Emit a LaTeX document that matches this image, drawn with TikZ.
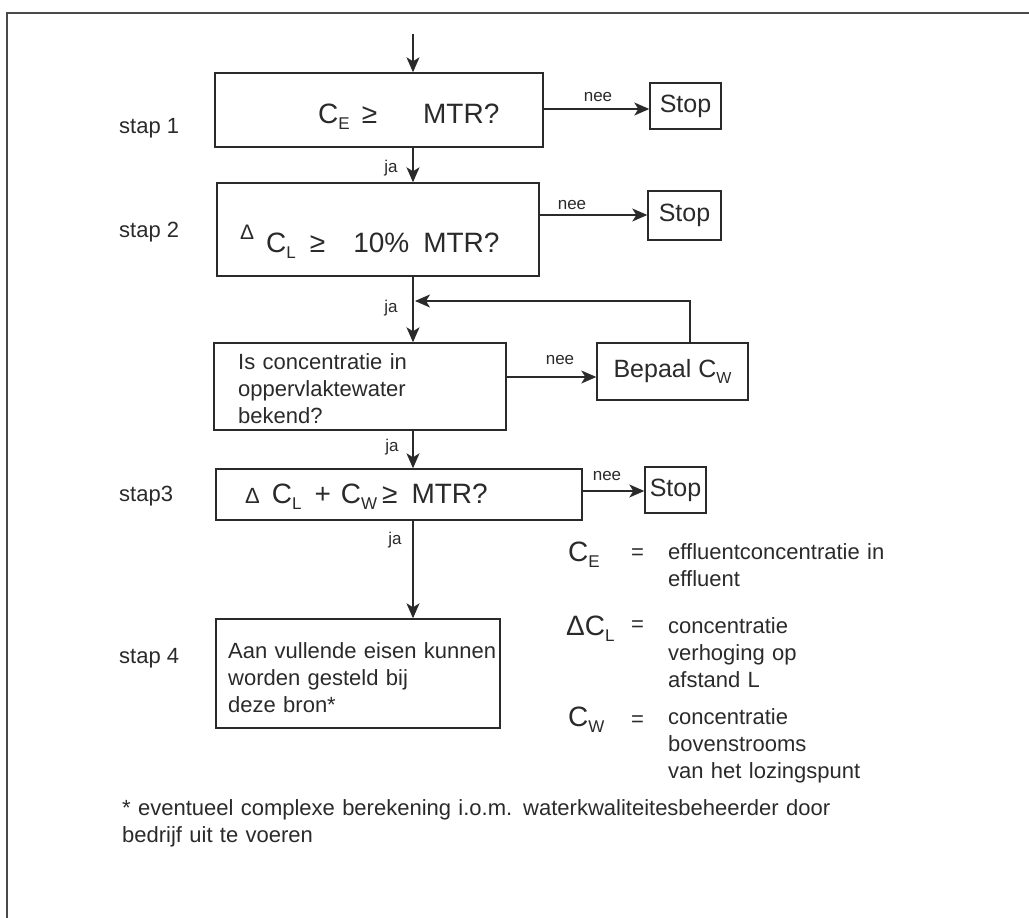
\documentclass[tikz,border=0pt]{standalone}
\usepackage{fontspec}
\setmainfont{Liberation Sans}
\usetikzlibrary{arrows.meta,calc}
\definecolor{ink}{HTML}{2A2A2A}
\newcommand{\dn}[2][17]{\raisebox{-6pt}{\fontsize{#1}{#1}\selectfont #2}}
\begin{document}
\begin{tikzpicture}[x=1pt,y=-1pt]
\tikzset{
  box/.style={draw=ink, line width=1.4pt, rectangle, inner sep=0pt, text=ink},
  lbl/.style={text=ink, inner sep=0pt, font=\fontsize{17}{17}\selectfont},
  stp/.style={text=ink, inner sep=0pt, anchor=base west, font=\fontsize{22}{22}\selectfont},
  big/.style={text=ink, inner sep=0pt, anchor=base west, font=\fontsize{28}{28}\selectfont},
  body/.style={text=ink, inner sep=0pt, anchor=base west, text width=300pt, align=left, font=\fontsize{22}{27}\selectfont},
  arr/.style={draw=ink, line width=1.4pt, -{Stealth[length=15pt,width=13pt,inset=4pt]}},
}
\useasboundingbox (0,0) rectangle (1029,918);
% frame
\draw[ink!85, line width=2pt] (1029,13) -- (7,13) -- (7,918);

% boxes
\node[box, minimum width=328pt, minimum height=74pt] (b1) at (379,110) {};
\node[box, minimum width=71pt, minimum height=46pt, font=\fontsize{25}{25}\selectfont] (s1) at (685.5,106) {Stop};
\node[box, minimum width=322pt, minimum height=93pt] (b2) at (378,229.5) {};
\node[box, minimum width=73pt, minimum height=49pt, font=\fontsize{25}{25}\selectfont] (s2) at (684.5,215.5) {Stop};
\node[box, minimum width=292pt, minimum height=87pt] (b3) at (360,386.5) {};
\node[box, minimum width=151pt, minimum height=57pt, font=\fontsize{25}{25}\selectfont] (bep) at (672.5,371.5) {Bepaal C\dn[16]{W}};
\node[box, minimum width=366pt, minimum height=51pt] (b4) at (399,494.5) {};
\node[box, minimum width=61pt, minimum height=46pt, font=\fontsize{25}{25}\selectfont] (s3) at (675.5,490) {Stop};
\node[box, minimum width=284pt, minimum height=109pt] (b5) at (358,673.5) {};

% box texts
\node[big] (t1) at (318,123) {C\dn{E}\hspace{12pt}≥\hspace{46pt}MTR?};
\node[big] (t2) at (240,252) {\raisebox{13pt}{\fontsize{21}{21}\selectfont Δ}\hspace{12pt}C\dn{L}\hspace{14pt}≥\hspace{28pt}10\%\hspace{14pt}MTR?};
\node[body] (t3) at (238,369) {Is concentratie in\\oppervlaktewater\\bekend?};
\node[big] (t4) at (245,503) {{\fontsize{22}{22}\selectfont Δ}\hspace{12pt}C\dn{L}\hspace{13pt}+\hspace{10pt}C\dn{W}\hspace{5pt}≥\hspace{14pt}MTR?};
\node[body] (t5) at (228,658) {Aan vullende eisen kunnen\\worden gesteld bij\\deze bron*};

% step labels
\node[stp] (st1) at (119,133) {stap 1};
\node[stp] (st2) at (119,237) {stap 2};
\node[stp] (st3) at (119,501) {stap3};
\node[stp] (st4) at (119,663) {stap 4};

% connectors
\coordinate (ax) at (413,0);
\coordinate (top) at (413,34);
\coordinate (r1) at (0,109);
\coordinate (r2) at (0,215);
\coordinate (r3) at (0,377);
\coordinate (r4) at (0,491);
\coordinate (fb) at (690,301);
\draw[arr] (top) -- (b1.north -| top);
\draw[arr] (b1.south -| ax) -- (b2.north -| ax);
\draw[arr] (b2.south -| ax) -- (b3.north -| ax);
\draw[arr] (b3.south -| ax) -- (b4.north -| ax);
\draw[arr] (b4.south -| ax) -- (b5.north -| ax);
\draw[arr] (b1.east |- r1) -- (s1.west |- r1);
\draw[arr] (b2.east |- r2) -- (s2.west |- r2);
\draw[arr] (b3.east |- r3) -- (bep.west |- r3);
\draw[arr] (b4.east |- r4) -- (s3.west |- r4);
\draw[arr] (bep.north -| fb) |- ($(ax |- fb)+(2,0)$);

% connector labels
\node[lbl] (n1) at (598,97) {nee};
\node[lbl] (n2) at (572,205) {nee};
\node[lbl] (n3) at (560,360) {nee};
\node[lbl] (n4) at (607,476) {nee};
\node[lbl] (j1) at (391,168) {ja};
\node[lbl] (j2) at (391,308) {ja};
\node[lbl] (j3) at (392,447) {ja};
\node[lbl] (j4) at (395,540) {ja};

% legend
\node[big] (l1) at (568,561) {C\dn{E}};
\node[big] (l2) at (566,635) {ΔC\dn{L}};
\node[big] (l3) at (568,726) {C\dn{W}};
\node[stp] (e1) at (631,559) {=};
\node[stp] (e2) at (631,631) {=};
\node[stp] (e3) at (631,726) {=};
\node[body, text width=260pt] (d1) at (668,559) {effluentconcentratie in\\effluent};
\node[body, text width=260pt] (d2) at (668,633) {concentratie\\verhoging op\\afstand L};
\node[body, text width=260pt] (d3) at (668,724) {concentratie\\bovenstrooms\\van het lozingspunt};

% footnote
\node[body, text width=800pt] (fn) at (122,815) {* eventueel complexe berekening i.o.m. waterkwaliteitesbeheerder door\\bedrijf uit te voeren};
\end{tikzpicture}
\end{document}
